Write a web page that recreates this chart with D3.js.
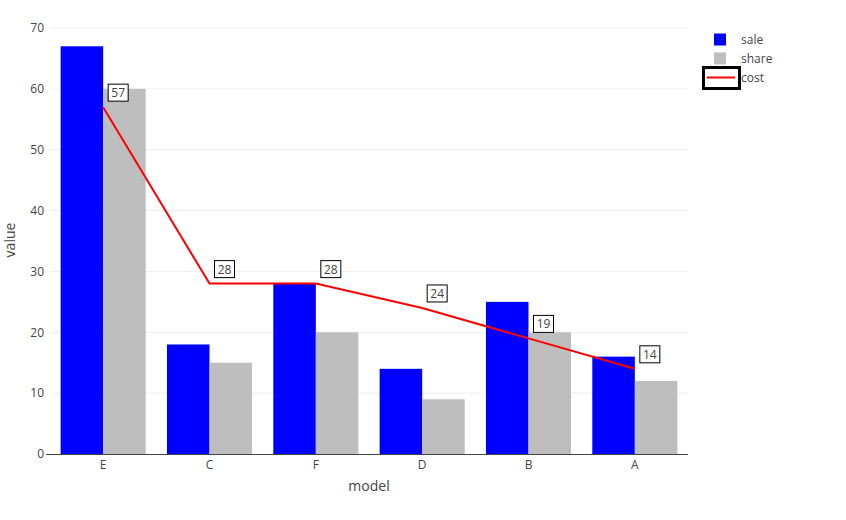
<!DOCTYPE html>
<html><head><meta charset="utf-8">
<script src="https://cdn.jsdelivr.net/npm/d3@7"></script>
<style>body{margin:0;background:#fff}svg{font-family:"Open Sans",sans-serif}</style>
</head><body><svg id="c" width="846" height="520"></svg>
<script>
const categories = ["E","C","F","D","B","A"];
const sale = [67,18,28,14,25,16];
const share = [60,15,20,9,20,12];
const cost = [57,28,28,24,19,14];
const yTicks = [0,10,20,30,40,50,60,70];

const svg = d3.select("#c");
const x = d3.scaleBand().domain(categories).range([50,688]).paddingInner(0.2).paddingOuter(0.1);
const x0 = d3.scaleBand().domain(categories).range([50,688]);
const y = d3.scaleLinear().domain([0,70.5]).range([454,25]);
const sub = d3.scaleBand().domain(["sale","share"]).range([0,x.bandwidth()]);

// grid
svg.append("g").selectAll("line").data(yTicks.slice(1)).join("line")
  .attr("x1",50).attr("x2",688).attr("y1",d=>y(d)).attr("y2",d=>y(d))
  .attr("stroke","#eee").attr("stroke-width",1);

// bars
const grp = svg.append("g").selectAll("g").data(categories).join("g")
  .attr("transform",c=>`translate(${x(c)},0)`);
grp.append("rect").attr("x",sub("sale")).attr("width",sub.bandwidth())
  .attr("y",(c,i)=>y(sale[i])).attr("height",(c,i)=>y(0)-y(sale[i])).attr("fill","#0000ff");
grp.append("rect").attr("x",sub("share")).attr("width",sub.bandwidth())
  .attr("y",(c,i)=>y(share[i])).attr("height",(c,i)=>y(0)-y(share[i])).attr("fill","#bebebe");

// y axis
const ya = svg.append("g").attr("transform","translate(50,0)")
  .call(d3.axisLeft(y).tickValues(yTicks).tickSize(0).tickPadding(6));
ya.select(".domain").remove();
ya.selectAll("text").attr("fill","#444").attr("font-size",12).attr("font-family","Open Sans");
svg.append("line").attr("x1",46).attr("x2",50).attr("y1",y(0)+0.5).attr("y2",y(0)+0.5).attr("stroke","#444");

// x axis
const xa = svg.append("g").attr("transform",`translate(0,${y(0)})`)
  .call(d3.axisBottom(x0).tickSize(0).tickPadding(6));
xa.select(".domain").attr("stroke","#444").attr("d","M50,0.5H688");
xa.selectAll("text").attr("fill","#444").attr("font-size",12).attr("font-family","Open Sans");

// line
const cx = c=>x0(c)+x0.bandwidth()/2;
svg.append("path").datum(cost)
  .attr("d",d3.line().x((d,i)=>cx(categories[i])).y(d=>y(d)))
  .attr("fill","none").attr("stroke","#ff0000").attr("stroke-width",2);

// annotations
const ann = svg.append("g").selectAll("g").data(cost).join("g")
  .attr("transform",(d,i)=>`translate(${cx(categories[i])+5},${y(d)-6})`);
ann.append("rect").attr("x",0).attr("y",-17).attr("width",20).attr("height",17)
  .attr("fill","#fff").attr("stroke","#000").attr("stroke-width",1);
ann.append("text").attr("x",10).attr("y",-4).attr("text-anchor","middle")
  .attr("font-size",12).attr("fill","#444").text(d=>d);

// axis titles
svg.append("text").attr("x",369).attr("y",491).attr("text-anchor","middle")
  .attr("font-size",14).attr("fill","#444").text("model");
svg.append("text").attr("transform","translate(15,240) rotate(-90)").attr("text-anchor","middle")
  .attr("font-size",14).attr("fill","#444").text("value");

// legend
const lg = svg.append("g");
const items = [{n:"sale",c:"#0000ff",t:"bar"},{n:"share",c:"#bebebe",t:"bar"},{n:"cost",c:"#ff0000",t:"line"}];
items.forEach((it,i)=>{
  const yy = 39.5 + i*19;
  if(it.t==="bar") lg.append("rect").attr("x",714).attr("y",yy-6).attr("width",12).attr("height",12).attr("fill",it.c);
  else lg.append("line").attr("x1",707).attr("x2",735).attr("y1",yy).attr("y2",yy).attr("stroke",it.c).attr("stroke-width",2);
  lg.append("text").attr("x",741).attr("y",yy+4.5).attr("font-size",12).attr("fill","#444").text(it.n);
});
lg.append("rect").attr("x",703.5).attr("y",67.5).attr("width",36).attr("height",21)
  .attr("fill","none").attr("stroke","#000").attr("stroke-width",3);
</script></body></html>
